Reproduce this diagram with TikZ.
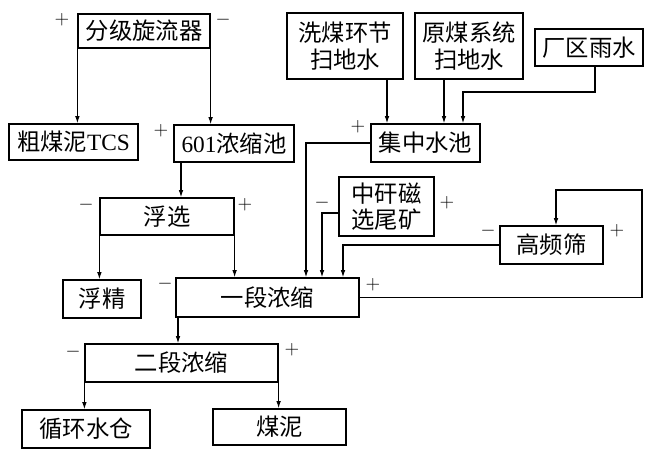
\documentclass[tikz,border=0pt]{standalone}
\usepackage{fontspec}
\setmainfont{Liberation Serif}
\newfontfamily\cjk{Noto Sans CJK SC}
\usetikzlibrary{arrows.meta}

\tikzset{
  box/.style={draw, line width=0.9pt, inner sep=0pt, align=center,
    font=\cjk\fontsize{17.5}{20}\selectfont},
  wh/.style 2 args={minimum width=#1*0.75pt, minimum height=#2*0.75pt},
  arr/.style={line width=0.9pt, -{Latex[length=5.5pt,width=3.5pt]}},
  sgn/.style={inner sep=0pt, font=\fontsize{15}{15}\selectfont}
}

\begin{document}
\begin{tikzpicture}[x=0.75pt, y=-0.75pt]
    \useasboundingbox (0,0) rectangle (653,456);
    % boxes
    \node[box, wh={132}{34}] (fj) at (144,31) {分级旋流器};
    \node[box, wh={129}{36}] (tcs) at (73.5,142) {粗煤泥{\rmfamily TCS}};
    \node[box, wh={120}{37}] (ns) at (234,143.5) {{\rmfamily 601}浓缩池};
    \node[box, wh={116}{66}] (xm) at (345,46) {洗煤环节\\扫地水};
    \node[box, wh={108}{66}] (ym) at (469,46) {原煤系统\\扫地水};
    \node[box, wh={108}{37}] (yy) at (589,47.5) {厂区雨水};
    \node[box, wh={109}{38}] (jz) at (425.5,143) {集中水池};
    \node[box, wh={134}{37}] (fx) at (167,216.5) {浮选};
    \node[box, wh={78}{38}] (fjing) at (102,299) {浮精};
    \node[box, wh={183}{39}] (yd) at (267.5,297.5) {一段浓缩};
    \node[box, wh={95}{59}] (zg) at (386.5,206.5) {中矸磁\\选尾矿};
    \node[box, wh={103}{38}] (gp) at (551.5,245) {高频筛};
    \node[box, wh={193}{38}] (ed) at (181.5,363) {二段浓缩};
    \node[box, wh={128}{38}] (xh) at (86,429) {循环水仓};
    \node[box, wh={133}{36}] (mn) at (279.5,427) {煤泥};

    % signs
    \node[sgn] (p1) at (62,20) {$+$};
    \node[sgn] (m1) at (223,20) {$-$};
    \node[sgn] (p2) at (161,131) {$+$};
    \node[sgn] (p3) at (358,127) {$+$};
    \node[sgn] (m3) at (86,205) {$-$};
    \node[sgn] (p4) at (245,205) {$+$};
    \node[sgn] (m4) at (165,284) {$-$};
    \node[sgn] (p5) at (373,285) {$+$};
    \node[sgn] (m5) at (322,203) {$-$};
    \node[sgn] (p6) at (447,203) {$+$};
    \node[sgn] (m6) at (488,231) {$-$};
    \node[sgn] (p7) at (617,231) {$+$};
    \node[sgn] (m7) at (73,352) {$-$};
    \node[sgn] (p8) at (292,350) {$+$};

    % turning points
    \coordinate (k601) at (181,0);
    \coordinate (kxm) at (387,0);
    \coordinate (kym) at (444,0);
    \coordinate (t1) at (595,92);
    \coordinate (t2) at (463,92);
    \coordinate (kjz) at (306,0);
    \coordinate (kzg) at (322,213);
    \coordinate (kgp) at (343,0);
    \coordinate (r1) at (642,190);
    \coordinate (r2) at (556,190);
    \coordinate (kyd) at (178,0);

    % connectors
    \draw[arr] (fj.south west) -- (fj.south west |- tcs.north);
    \draw[arr] (fj.south east) -- (fj.south east |- ns.north);
    \draw[arr] (k601 |- ns.south) -- (k601 |- fx.north);
    \draw[arr] (fx.south west) -- (fx.south west |- fjing.north);
    \draw[arr] (fx.south east) -- (fx.south east |- yd.north);
    \draw[arr] (kxm |- xm.south) -- (kxm |- jz.north);
    \draw[arr] (kym |- ym.south) -- (kym |- jz.north);
    \draw[arr] (t1 |- yy.south) -- (t1) -- (t2) -- (t2 |- jz.north);
    \draw[arr] (jz.west) -- (kjz |- jz.west) -- (kjz |- yd.north);
    \draw[arr] (kzg -| zg.west) -- (kzg) -- (kzg |- yd.north);
    \draw[arr] (gp.west) -- (kgp |- gp.west) -- (kgp |- yd.north);
    \draw[arr] (yd.east) -- (yd.east -| r1) -- (r1) -- (r2) -- (r2 |- gp.north);
    \draw[arr] (kyd |- yd.south) -- (kyd |- ed.north);
    \draw[arr] (ed.south west) -- (ed.south west |- xh.north);
    \draw[arr] (ed.south east) -- (ed.south east |- mn.north);
\end{tikzpicture}
\end{document}
